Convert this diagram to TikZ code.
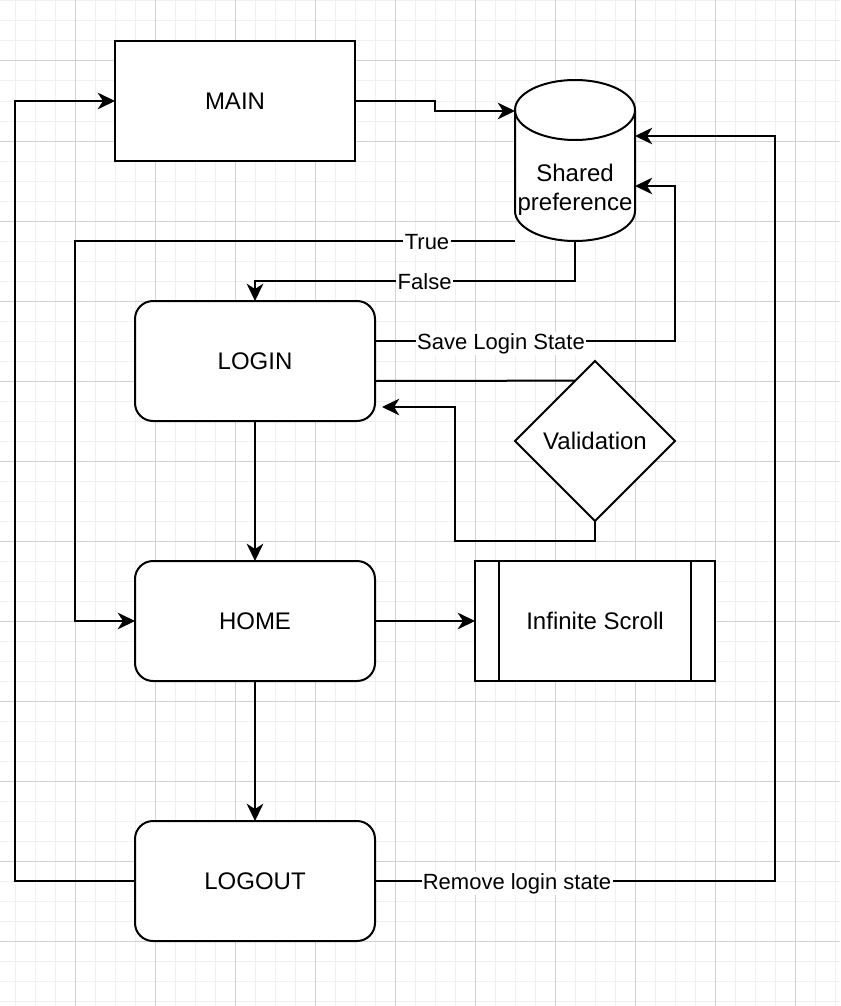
\documentclass[tikz,border=0pt]{standalone}
\usepackage{fontspec}
\setmainfont{Liberation Sans}
\usetikzlibrary{arrows.meta,shapes.geometric,calc}
\begin{document}
\begin{tikzpicture}[x=0.75pt,y=-0.75pt,
  box/.style={draw,line width=1.5pt,minimum width=180pt,minimum height=90pt,inner sep=0pt,outer sep=0pt,fill=white,font=\fontsize{18}{21.6}\selectfont},
  rbox/.style={box,rounded corners=13.5pt},
  conn/.style={line width=1.5pt},
  arr/.style={conn,-{Stealth[length=13pt,width=12.5pt,inset=4pt]}},
  lbl/.style={fill=white,inner sep=1pt,font=\fontsize{16.5}{19.8}\selectfont,text height=11.9pt,text depth=3.5pt,yshift=-2pt},
  minorgrid/.style={line width=0.75pt,gray!12},
  majorgrid/.style={line width=0.75pt,gray!35}]
\useasboundingbox (0,0) rectangle (840,1006);
\fill[white] (0,0) rectangle (840,1006);
% grid
\foreach \x in {15,35,...,835} \draw[minorgrid] (\x,0) -- (\x,1006);
\foreach \y in {1,21,...,1001} \draw[minorgrid] (0,\y) -- (840,\y);
\foreach \x in {75,155,...,795} \draw[majorgrid] (\x,0) -- (\x,1006);
\foreach \y in {61,141,...,941} \draw[majorgrid] (0,\y) -- (840,\y);

% nodes
\node[box] (main) at (235,101) {MAIN};
\node[rbox] (login) at (255,361) {LOGIN};
\node[rbox] (home) at (255,621) {HOME};
\node[rbox] (logout) at (255,881) {LOGOUT};
\node[box] (is) at (595,621) {Infinite Scroll};
\draw[conn] ([xshift=18pt]is.north west) -- ([xshift=18pt]is.south west);
\draw[conn] ([xshift=-18pt]is.north east) -- ([xshift=-18pt]is.south east);
\node[draw,diamond,aspect=1,line width=1.5pt,minimum width=120pt,minimum height=120pt,inner sep=0pt,outer sep=0pt,fill=white,font=\fontsize{18}{21.6}\selectfont] (val) at (595,441) {Validation};

% cylinder
\node[minimum width=90pt,minimum height=120.75pt,inner sep=0pt,outer sep=0pt] (sp) at (575,160.5) {};
\draw[line width=1.5pt,fill=white] (515,110) -- (515,211) arc[start angle=180,end angle=360,x radius=45pt,y radius=22.5pt] -- (635,110) arc[start angle=0,end angle=180,x radius=45pt,y radius=22.5pt] -- cycle;
\draw[line width=1.5pt] (515,110) arc[start angle=180,end angle=360,x radius=45pt,y radius=22.5pt];
\node[align=center,inner sep=0pt,font=\fontsize{18}{21.6}\selectfont] (spt) at (575,190) {Shared\\preference};
\coordinate (cylL) at (515,111);
\coordinate (cylR1) at (635,136);
\coordinate (cylR2) at (635,186);
\coordinate (cylBL) at (515,241);
\coordinate (vtip) at ([xshift=5.25pt,yshift=-34.5pt]login.east);

% connectors
\draw[arr] (main.east) -- ++(80,0) |- (cylL);
\draw[arr] (cylBL) -- node[lbl,pos=0.2]{True} ++(-440,0) |- (home.west);
\draw[arr] (sp.south) -- ++(0,40) -- node[lbl,pos=0.47]{False} ++(-320,0) -- (login.north);
\draw[arr] ([yshift=15pt]login.east) -- node[lbl,pos=0.42]{Save Login State} ++(300,0) |- (cylR2);
\draw[conn] ([yshift=-15pt]login.east) -- (val.108.43);
\draw[arr] (val.south) -- ++(0,20) -- ++(-140,0) |- (vtip);
\draw[arr] (login.south) -- (home.north);
\draw[arr] (home.east) -- (is.west);
\draw[arr] (home.south) -- (logout.north);
\draw[arr] (logout.west) -- ++(-120,0) |- (main.west);
\draw[arr] (logout.east) -- node[lbl,pos=0.355]{Remove login state} ++(400,0) |- (cylR1);
\end{tikzpicture}
\end{document}
